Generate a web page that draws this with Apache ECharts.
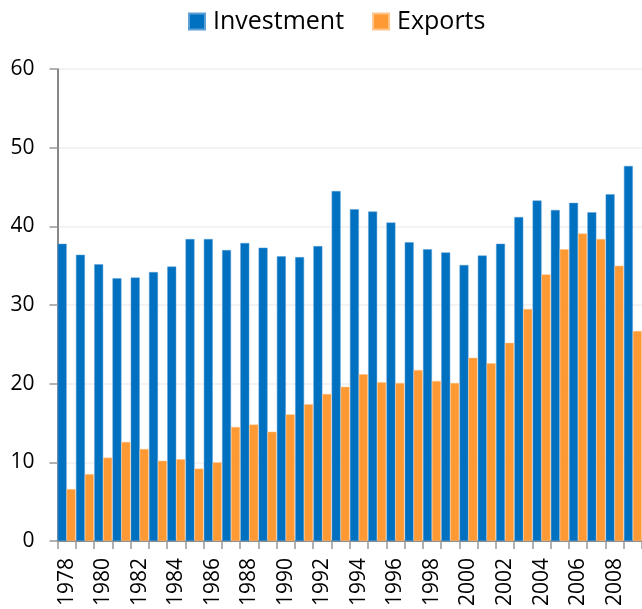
<!DOCTYPE html>
<html>
<head>
<meta charset="utf-8">
<script src="https://cdn.jsdelivr.net/npm/echarts@6/dist/echarts.min.js"></script>
<style>html,body{margin:0;padding:0;background:#fff;}#c{width:642px;height:609px;}</style>
</head>
<body>
<div id="c"></div>
<script>
const years = ['1978','1979','1980','1981','1982','1983','1984','1985','1986','1987','1988','1989','1990','1991','1992','1993','1994','1995','1996','1997','1998','1999','2000','2001','2002','2003','2004','2005','2006','2007','2008','2009'];
const investment = [37.8,36.4,35.2,33.4,33.5,34.2,34.9,38.4,38.4,37.0,37.9,37.3,36.2,36.1,37.5,44.5,42.2,41.9,40.5,38.0,37.1,36.7,35.1,36.3,37.8,41.2,43.3,42.1,43.0,41.8,44.1,47.7];
const exportsData = [6.6,8.5,10.6,12.6,11.7,10.2,10.4,9.2,10.0,14.5,14.8,13.9,16.1,17.4,18.7,19.6,21.2,20.2,20.1,21.75,20.35,20.1,23.3,22.6,25.2,29.5,33.9,37.1,39.1,38.4,35.0,26.7];
const yMin = 0, yMax = 60, yStep = 10;

const chart = echarts.init(document.getElementById('c'), null, {renderer: 'canvas'});
const font = 'Open Sans';
chart.setOption({
  animation: false,
  legend: {
    left: 183, top: 4,
    itemWidth: 16, itemHeight: 16, itemGap: 28,
    icon: 'rect',
    textStyle: {fontFamily: font, fontSize: 25, color: '#000', padding: [0, 0, 0, 3]},
    data: ['Investment', 'Exports']
  },
  grid: {left: 57.5, right: -1.5, top: 69.2, bottom: 66.4},
  xAxis: {
    type: 'category',
    data: years,
    axisLine: {lineStyle: {color: '#888', width: 2}},
    axisTick: {show: true, interval: 0, length: 8, lineStyle: {color: '#999', width: 1.5}},
    axisLabel: {interval: 1, rotate: 90, margin: 17, fontFamily: font, fontSize: 21, color: '#000'},
    splitLine: {show: false}
  },
  yAxis: {
    type: 'value', min: yMin, max: yMax, interval: yStep,
    axisLine: {show: true, lineStyle: {color: '#888', width: 2}},
    axisTick: {show: true, length: 8, lineStyle: {color: '#999', width: 1.5}},
    axisLabel: {margin: 23, fontFamily: font, fontSize: 21, color: '#000'},
    splitLine: {show: true, lineStyle: {color: '#efefef', width: 1.5}}
  },
  series: [
    {name: 'Investment', type: 'bar', data: investment, barGap: '0%', barCategoryGap: '2%',
     itemStyle: {color: '#0070C0', borderColor: '#5a9fd6', borderWidth: 0.5}},
    {name: 'Exports', type: 'bar', data: exportsData, barGap: '0%', barCategoryGap: '2%',
     itemStyle: {color: '#FF9933', borderColor: '#ffc48a', borderWidth: 0.5}}
  ]
});
</script>
</body>
</html>
